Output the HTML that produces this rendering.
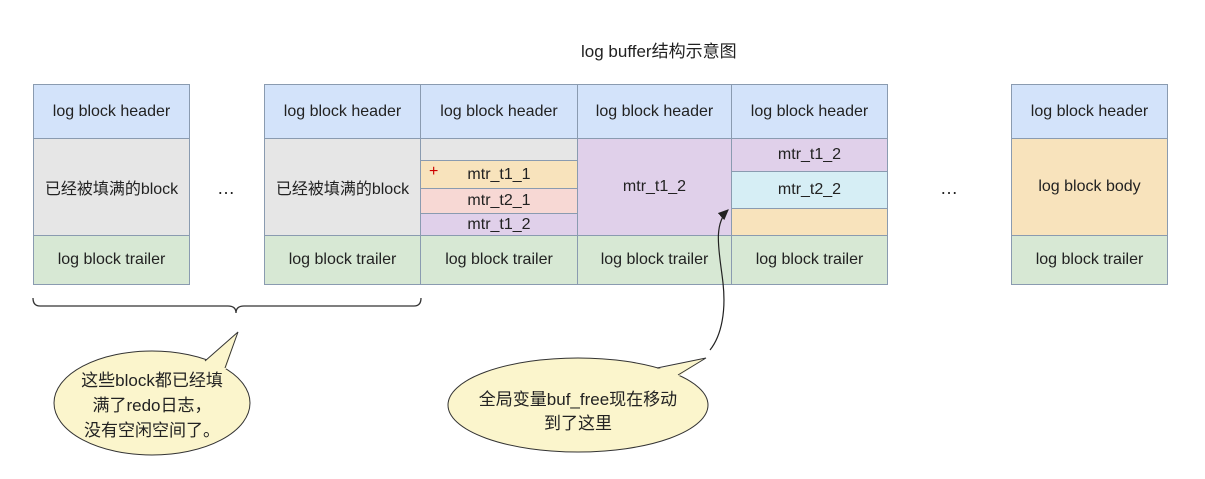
<!DOCTYPE html>
<html><head><meta charset="utf-8"><style>
body{margin:0;width:1205px;height:479px;background:#fff;position:relative;overflow:hidden;font-family:"Liberation Sans","Noto Sans CJK SC",sans-serif;}
.c{position:absolute;box-sizing:border-box;border:1px solid #8a9bb0;display:flex;align-items:center;justify-content:center;font-size:16px;color:#222;}
.h{background:#d3e3fa}.g{background:#e6e6e6}.t{background:#d7e8d4}.y{background:#f8e3bc}.p{background:#e0d0ea}.k{background:#f7d8d4}.cy{background:#d6eef5}
.txt{position:absolute;font-size:16px;color:#222;}
</style></head><body>
<div class="txt" style="left:581px;top:37px;font-size:17px">log buffer结构示意图</div>

<div class="c h" style="left:33px;top:84px;width:157px;height:55px">log block header</div>
<div class="c g" style="left:33px;top:138px;width:157px;height:98px">已经被填满的block</div>
<div class="c t" style="left:33px;top:235px;width:157px;height:50px">log block trailer</div>

<div class="txt" style="left:217px;top:178px;font-size:18px">…</div>

<div class="c h" style="left:264px;top:84px;width:157px;height:55px">log block header</div>
<div class="c g" style="left:264px;top:138px;width:157px;height:98px">已经被填满的block</div>
<div class="c t" style="left:264px;top:235px;width:157px;height:50px">log block trailer</div>

<div class="c h" style="left:420px;top:84px;width:158px;height:55px">log block header</div>
<div class="c g" style="left:420px;top:138px;width:158px;height:23px;"></div>
<div class="c y" style="left:420px;top:160px;width:158px;height:29px">mtr_t1_1</div>
<div class="txt" style="left:429px;top:163px;color:#c00;font-size:16px">+</div>
<div class="c k" style="left:420px;top:188px;width:158px;height:26px">mtr_t2_1</div>
<div class="c p" style="left:420px;top:213px;width:158px;height:23px">mtr_t1_2</div>
<div class="c t" style="left:420px;top:235px;width:158px;height:50px">log block trailer</div>

<div class="c h" style="left:577px;top:84px;width:155px;height:55px">log block header</div>
<div class="c p" style="left:577px;top:138px;width:155px;height:98px">mtr_t1_2</div>
<div class="c t" style="left:577px;top:235px;width:155px;height:50px">log block trailer</div>

<div class="c h" style="left:731px;top:84px;width:157px;height:55px">log block header</div>
<div class="c p" style="left:731px;top:138px;width:157px;height:34px">mtr_t1_2</div>
<div class="c cy" style="left:731px;top:171px;width:157px;height:38px">mtr_t2_2</div>
<div class="c y" style="left:731px;top:208px;width:157px;height:28px"></div>
<div class="c t" style="left:731px;top:235px;width:157px;height:50px">log block trailer</div>

<div class="txt" style="left:940px;top:178px;font-size:18px">…</div>

<div class="c h" style="left:1011px;top:84px;width:157px;height:55px">log block header</div>
<div class="c y" style="left:1011px;top:138px;width:157px;height:98px">log block body</div>
<div class="c t" style="left:1011px;top:235px;width:157px;height:50px">log block trailer</div>

<svg width="1205" height="479" style="position:absolute;left:0;top:0">
<defs><marker id="a" markerWidth="10" markerHeight="10" refX="8" refY="5" orient="auto"><path d="M0,1 L9,5 L0,9 z" fill="#222"/></marker></defs>
<path d="M33,298 Q33,306 40,306 L228,306 Q236,306 236,313 Q236,306 244,306 L414,306 Q421,306 421,298" fill="none" stroke="#333" stroke-width="1.3"/>
<ellipse cx="152" cy="403" rx="98" ry="52" fill="#fbf5cc" stroke="#333"/>
<path d="M238,332 L205,361 L212,375 L226,369 Z" fill="#fbf5cc" stroke="none"/>
<path d="M205,361 L238,332 L225,368" fill="none" stroke="#333"/>
<ellipse cx="578" cy="405" rx="130" ry="47" fill="#fbf5cc" stroke="#333"/>
<path d="M706,358 L657,369 L665,380 L679,376 Z" fill="#fbf5cc" stroke="none"/>
<path d="M657,368 L706,358 L678,375" fill="none" stroke="#333"/>
<path d="M710,350 C722,335 726,310 723,283 C720,255 712,225 728,210" fill="none" stroke="#222" stroke-width="1.2" marker-end="url(#a)"/>
</svg>
<div class="txt" style="left:62px;top:368px;width:180px;text-align:center;font-size:17px;line-height:25px">这些block都已经填<br>满了redo日志，<br>没有空闲空间了。</div>
<div class="txt" style="left:448px;top:388px;width:260px;text-align:center;font-size:17px;line-height:24px">全局变量buf_free现在移动<br>到了这里</div>
</body></html>
